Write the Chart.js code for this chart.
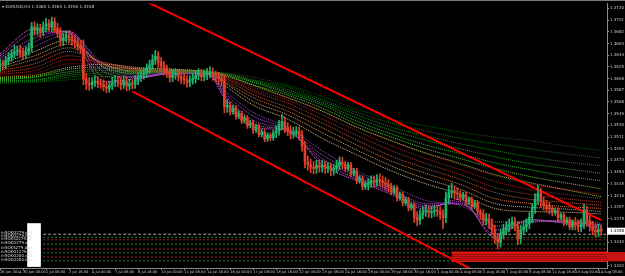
<!DOCTYPE html>
<html><head><meta charset="utf-8">
<script src="https://cdn.jsdelivr.net/npm/chart.js@4"></script>
<style>html,body{margin:0;padding:0;background:#000;overflow:hidden}canvas{display:block}</style>
</head><body>
<canvas id="c" width="625" height="276"></canvas>
<script>
const symbolTitle = "EURUSD,H4";
const ohlcTitle = ["1.3360", "1.3365", "1.3356", "1.3358"];
const timeLabels = ["26 Jun 2014","30 Jun 00:00","1 Jul 08:00","2 Jul 16:00","4 Jul 00:00","7 Jul 08:00","8 Jul 16:00","10 Jul 00:00","11 Jul 08:00","14 Jul 16:00","16 Jul 00:00","17 Jul 08:00","18 Jul 16:00","22 Jul 00:00","23 Jul 08:00","24 Jul 16:00","28 Jul 00:00","29 Jul 08:00","30 Jul 16:00","1 Aug 00:00","4 Aug 08:00","5 Aug 16:00","7 Aug 00:00","8 Aug 08:00","11 Aug 16:00","13 Aug 00:00","14 Aug 08:00"];
const labelBars = [0,8,16,24,32,40,48,56,64,72,80,88,96,104,112,120,128,136,144,152,160,168,176,184,192,200,208];
const yTicks = [1.3720,1.3701,1.3682,1.3663,1.3644,1.3625,1.3606,1.3587,1.3568,1.3549,1.3530,1.3511,1.3492,1.3473,1.3454,1.3435,1.3416,1.3397,1.3378,1.3359,1.3340,1.3321,1.3302];

const opens = [
1.3626,1.3630,1.3628,1.3635,1.3640,1.3646,1.3650,1.3652,
1.3648,1.3645,1.3650,1.3656,1.3690,1.3684,1.3688,1.3682,
1.3690,1.3695,1.3690,1.3698,1.3688,1.3680,1.3668,1.3672,
1.3676,1.3672,1.3668,1.3664,1.3660,1.3655,1.3605,1.3598,
1.3596,1.3600,1.3602,1.3598,1.3597,1.3593,1.3590,1.3595,
1.3600,1.3603,1.3600,1.3596,1.3602,1.3594,1.3598,1.3597,
1.3603,1.3608,1.3612,1.3615,1.3622,1.3628,1.3636,1.3642,
1.3632,1.3626,1.3620,1.3616,1.3608,1.3612,1.3614,1.3609,
1.3606,1.3604,1.3600,1.3604,1.3606,1.3611,1.3614,1.3609,
1.3612,1.3614,1.3616,1.3611,1.3609,1.3606,1.3602,1.3560,
1.3562,1.3552,1.3558,1.3545,1.3549,1.3538,1.3542,1.3530,
1.3534,1.3522,1.3528,1.3515,1.3519,1.3508,1.3514,1.3510,
1.3518,1.3521,1.3530,1.3536,1.3526,1.3521,1.3516,1.3519,
1.3520,1.3514,1.3496,1.3470,1.3466,1.3462,1.3460,1.3465,
1.3462,1.3465,1.3460,1.3462,1.3457,1.3460,1.3465,1.3470,
1.3467,1.3460,1.3466,1.3452,1.3456,1.3440,1.3444,1.3430,
1.3435,1.3436,1.3440,1.3438,1.3442,1.3440,1.3437,1.3434,
1.3430,1.3422,1.3428,1.3412,1.3418,1.3404,1.3409,1.3396,
1.3400,1.3380,1.3376,1.3385,1.3390,1.3392,1.3388,1.3390,
1.3392,1.3390,1.3385,1.3380,1.3412,1.3420,1.3424,1.3420,
1.3418,1.3412,1.3417,1.3405,1.3410,1.3398,1.3404,1.3390,
1.3385,1.3376,1.3378,1.3370,1.3360,1.3346,1.3340,1.3354,
1.3360,1.3365,1.3370,1.3372,1.3367,1.3346,1.3360,1.3365,
1.3370,1.3380,1.3395,1.3410,1.3420,1.3405,1.3400,1.3397,
1.3394,1.3388,1.3392,1.3380,1.3384,1.3372,1.3377,1.3365,
1.3372,1.3368,1.3365,1.3370,1.3390,1.3375,1.3366,1.3360,
1.3357,1.3361];
const highs = [
1.3638,1.3636,1.3642,1.3648,1.3653,1.3660,1.3659,1.3660,
1.3655,1.3658,1.3664,1.3697,1.3698,1.3695,1.3694,1.3698,
1.3704,1.3702,1.3706,1.3705,1.3696,1.3689,1.3680,1.3684,
1.3684,1.3680,1.3675,1.3671,1.3668,1.3669,1.3614,1.3607,
1.3607,1.3610,1.3609,1.3605,1.3604,1.3601,1.3602,1.3608,
1.3611,1.3610,1.3607,1.3610,1.3609,1.3605,1.3605,1.3611,
1.3615,1.3620,1.3623,1.3630,1.3636,1.3645,1.3652,1.3650,
1.3640,1.3634,1.3628,1.3623,1.3620,1.3622,1.3621,1.3616,
1.3614,1.3611,1.3611,1.3614,1.3619,1.3622,1.3621,1.3620,
1.3622,1.3625,1.3623,1.3618,1.3616,1.3614,1.3612,1.3572,
1.3568,1.3563,1.3562,1.3554,1.3553,1.3546,1.3546,1.3538,
1.3538,1.3532,1.3532,1.3523,1.3523,1.3518,1.3518,1.3522,
1.3529,1.3538,1.3548,1.3544,1.3534,1.3529,1.3527,1.3528,
1.3528,1.3522,1.3504,1.3480,1.3475,1.3471,1.3473,1.3473,
1.3473,1.3472,1.3470,1.3469,1.3467,1.3473,1.3479,1.3478,
1.3472,1.3470,1.3470,1.3460,1.3460,1.3448,1.3448,1.3439,
1.3444,1.3448,1.3448,1.3450,1.3451,1.3448,1.3445,1.3442,
1.3436,1.3432,1.3432,1.3422,1.3422,1.3413,1.3413,1.3404,
1.3404,1.3390,1.3393,1.3398,1.3401,1.3400,1.3398,1.3400,
1.3400,1.3398,1.3393,1.3422,1.3432,1.3436,1.3432,1.3428,
1.3424,1.3421,1.3421,1.3414,1.3414,1.3408,1.3408,1.3394,
1.3393,1.3387,1.3386,1.3378,1.3368,1.3354,1.3362,1.3369,
1.3373,1.3378,1.3381,1.3380,1.3374,1.3368,1.3373,1.3378,
1.3388,1.3403,1.3419,1.3432,1.3428,1.3413,1.3408,1.3405,
1.3399,1.3396,1.3396,1.3388,1.3388,1.3381,1.3381,1.3376,
1.3380,1.3376,1.3378,1.3402,1.3399,1.3383,1.3374,1.3368,
1.3369,1.3368];
const lows = [
1.3617,1.3620,1.3622,1.3628,1.3634,1.3640,1.3643,1.3641,
1.3637,1.3639,1.3644,1.3650,1.3676,1.3677,1.3673,1.3676,
1.3682,1.3683,1.3682,1.3681,1.3673,1.3659,1.3660,1.3665,
1.3664,1.3660,1.3656,1.3652,1.3647,1.3596,1.3588,1.3587,
1.3589,1.3593,1.3591,1.3590,1.3586,1.3583,1.3584,1.3588,
1.3593,1.3593,1.3588,1.3590,1.3586,1.3587,1.3589,1.3590,
1.3596,1.3601,1.3605,1.3608,1.3615,1.3621,1.3629,1.3624,
1.3618,1.3612,1.3608,1.3600,1.3601,1.3605,1.3602,1.3598,
1.3597,1.3592,1.3593,1.3597,1.3599,1.3604,1.3602,1.3602,
1.3604,1.3607,1.3603,1.3601,1.3598,1.3594,1.3550,1.3551,
1.3547,1.3548,1.3540,1.3541,1.3533,1.3534,1.3525,1.3526,
1.3517,1.3518,1.3511,1.3511,1.3503,1.3504,1.3505,1.3506,
1.3510,1.3514,1.3523,1.3518,1.3513,1.3508,1.3509,1.3512,
1.3506,1.3488,1.3461,1.3457,1.3453,1.3451,1.3452,1.3454,
1.3454,1.3452,1.3453,1.3448,1.3449,1.3453,1.3458,1.3459,
1.3455,1.3456,1.3447,1.3448,1.3435,1.3436,1.3425,1.3426,
1.3425,1.3429,1.3430,1.3431,1.3432,1.3429,1.3426,1.3422,
1.3417,1.3418,1.3407,1.3408,1.3399,1.3400,1.3391,1.3392,
1.3372,1.3367,1.3369,1.3378,1.3382,1.3380,1.3380,1.3382,
1.3382,1.3377,1.3362,1.3372,1.3404,1.3412,1.3411,1.3409,
1.3407,1.3408,1.3400,1.3401,1.3393,1.3394,1.3385,1.3377,
1.3368,1.3368,1.3362,1.3352,1.3338,1.3329,1.3332,1.3346,
1.3352,1.3357,1.3362,1.3359,1.3336,1.3338,1.3352,1.3357,
1.3362,1.3372,1.3387,1.3402,1.3397,1.3392,1.3389,1.3386,
1.3383,1.3384,1.3375,1.3376,1.3367,1.3368,1.3360,1.3360,
1.3360,1.3357,1.3357,1.3362,1.3367,1.3358,1.3352,1.3349,
1.3349,1.3351];
const closes = [
1.3630,1.3628,1.3635,1.3640,1.3646,1.3650,1.3652,1.3648,
1.3645,1.3650,1.3656,1.3690,1.3684,1.3688,1.3682,1.3690,
1.3695,1.3690,1.3698,1.3688,1.3680,1.3668,1.3672,1.3676,
1.3672,1.3668,1.3664,1.3660,1.3655,1.3605,1.3598,1.3596,
1.3600,1.3602,1.3598,1.3597,1.3593,1.3590,1.3595,1.3600,
1.3603,1.3600,1.3596,1.3602,1.3594,1.3598,1.3597,1.3603,
1.3608,1.3612,1.3615,1.3622,1.3628,1.3636,1.3642,1.3632,
1.3626,1.3620,1.3616,1.3608,1.3612,1.3614,1.3609,1.3606,
1.3604,1.3600,1.3604,1.3606,1.3611,1.3614,1.3609,1.3612,
1.3614,1.3616,1.3611,1.3609,1.3606,1.3602,1.3560,1.3562,
1.3552,1.3558,1.3545,1.3549,1.3538,1.3542,1.3530,1.3534,
1.3522,1.3528,1.3515,1.3519,1.3508,1.3514,1.3510,1.3518,
1.3521,1.3530,1.3536,1.3526,1.3521,1.3516,1.3519,1.3520,
1.3514,1.3496,1.3470,1.3466,1.3462,1.3460,1.3465,1.3462,
1.3465,1.3460,1.3462,1.3457,1.3460,1.3465,1.3470,1.3467,
1.3460,1.3466,1.3452,1.3456,1.3440,1.3444,1.3430,1.3435,
1.3436,1.3440,1.3438,1.3442,1.3440,1.3437,1.3434,1.3430,
1.3422,1.3428,1.3412,1.3418,1.3404,1.3409,1.3396,1.3400,
1.3380,1.3376,1.3385,1.3390,1.3392,1.3388,1.3390,1.3392,
1.3390,1.3385,1.3380,1.3412,1.3420,1.3424,1.3420,1.3418,
1.3412,1.3417,1.3405,1.3410,1.3398,1.3404,1.3390,1.3385,
1.3376,1.3378,1.3370,1.3360,1.3346,1.3340,1.3354,1.3360,
1.3365,1.3370,1.3372,1.3367,1.3346,1.3360,1.3365,1.3370,
1.3380,1.3395,1.3410,1.3420,1.3405,1.3400,1.3397,1.3394,
1.3388,1.3392,1.3380,1.3384,1.3372,1.3377,1.3365,1.3372,
1.3368,1.3365,1.3370,1.3390,1.3375,1.3366,1.3360,1.3357,
1.3361,1.3358];

// moving-average ribbon, read at these bars
const maBars = [0,12,24,36,48,60,72,80,88,100,112,124,136,148,160,172,184,196,209];
const fast1 = [1.3646,1.3687,1.3680,1.3601,1.3606,1.3614,1.3613,1.3558,1.3527,1.3521,1.3466,1.3440,1.3418,1.3394,1.3410,1.3348,1.3377,1.3371,1.3363];
const fast2 = [1.3643,1.3680,1.3682,1.3609,1.3608,1.3614,1.3614,1.3564,1.3532,1.3521,1.3471,1.3443,1.3421,1.3397,1.3406,1.3353,1.3376,1.3373,1.3366];
const fast3 = [1.3640,1.3672,1.3683,1.3617,1.3608,1.3616,1.3614,1.3569,1.3538,1.3522,1.3476,1.3447,1.3424,1.3400,1.3403,1.3360,1.3374,1.3373,1.3368];
const fast4 = [1.3637,1.3666,1.3682,1.3624,1.3609,1.3616,1.3614,1.3574,1.3545,1.3524,1.3482,1.3452,1.3427,1.3403,1.3402,1.3366,1.3373,1.3374,1.3369];
const fast5 = [1.3633,1.3658,1.3678,1.3630,1.3611,1.3616,1.3614,1.3579,1.3551,1.3527,1.3489,1.3456,1.3432,1.3408,1.3400,1.3373,1.3373,1.3376,1.3371];
const mid1 = [1.3629,1.3650,1.3669,1.3625,1.3614,1.3617,1.3616,1.3588,1.3563,1.3540,1.3509,1.3482,1.3456,1.3435,1.3418,1.3395,1.3390,1.3389,1.3386];
const mid2 = [1.3625,1.3643,1.3662,1.3629,1.3616,1.3617,1.3616,1.3593,1.3569,1.3547,1.3518,1.3490,1.3464,1.3443,1.3426,1.3403,1.3397,1.3394,1.3390];
const mid3 = [1.3622,1.3637,1.3656,1.3630,1.3617,1.3617,1.3616,1.3596,1.3575,1.3553,1.3526,1.3498,1.3472,1.3452,1.3434,1.3411,1.3403,1.3398,1.3395];
const mid4 = [1.3619,1.3630,1.3650,1.3632,1.3619,1.3617,1.3617,1.3600,1.3580,1.3559,1.3534,1.3506,1.3480,1.3460,1.3442,1.3421,1.3410,1.3405,1.3400];
const mid5 = [1.3616,1.3624,1.3643,1.3632,1.3621,1.3619,1.3617,1.3603,1.3585,1.3566,1.3540,1.3514,1.3489,1.3468,1.3450,1.3429,1.3418,1.3411,1.3405];
const mid6 = [1.3613,1.3619,1.3637,1.3632,1.3622,1.3619,1.3617,1.3604,1.3588,1.3571,1.3547,1.3521,1.3497,1.3476,1.3458,1.3439,1.3426,1.3418,1.3411];
const mid7 = [1.3609,1.3614,1.3630,1.3630,1.3622,1.3619,1.3617,1.3606,1.3592,1.3575,1.3553,1.3527,1.3505,1.3484,1.3466,1.3448,1.3435,1.3426,1.3418];
const slow1 = [1.3608,1.3611,1.3624,1.3629,1.3624,1.3621,1.3617,1.3608,1.3595,1.3575,1.3553,1.3527,1.3505,1.3485,1.3468,1.3450,1.3437,1.3426,1.3414];
const slow2 = [1.3606,1.3609,1.3621,1.3625,1.3622,1.3621,1.3617,1.3609,1.3596,1.3579,1.3558,1.3532,1.3511,1.3492,1.3476,1.3460,1.3447,1.3437,1.3427];
const slow3 = [1.3604,1.3608,1.3617,1.3622,1.3621,1.3619,1.3617,1.3611,1.3600,1.3582,1.3563,1.3537,1.3516,1.3498,1.3484,1.3469,1.3458,1.3448,1.3440];
const slow4 = [1.3603,1.3604,1.3614,1.3619,1.3619,1.3619,1.3617,1.3611,1.3601,1.3585,1.3566,1.3542,1.3522,1.3506,1.3492,1.3479,1.3468,1.3460,1.3452];
const slow5 = [1.3601,1.3603,1.3611,1.3616,1.3617,1.3617,1.3617,1.3613,1.3603,1.3588,1.3569,1.3547,1.3527,1.3513,1.3500,1.3489,1.3479,1.3471,1.3464];
const slow6 = [1.3600,1.3601,1.3608,1.3613,1.3616,1.3617,1.3616,1.3613,1.3604,1.3592,1.3572,1.3551,1.3534,1.3521,1.3509,1.3500,1.3492,1.3484,1.3477];
const slow7 = [1.3598,1.3600,1.3604,1.3609,1.3614,1.3616,1.3616,1.3614,1.3608,1.3595,1.3577,1.3556,1.3540,1.3529,1.3519,1.3511,1.3505,1.3497,1.3489];

// trend channel (bar index, price)
const channelUpperBars = [50, 209];
const channelUpperPrices = [1.3733, 1.3376];
const channelLowerBars = [46, 166];
const channelLowerPrices = [1.3585, 1.3291];

// horizontal order lines
const hLineNames = ["m5OKG279.sell","m5OKG279.buy","m5OKS2279.tp","m5OKG279.sl","m5OKS279.buy","m5OKG1279.tp","m5OKG280.sell","m5OKG280.buy"];
const hLinePrices = [1.3353,1.3348,1.3344,1.3337,1.3329,1.3323,1.3316,1.3310];
const hLineColors = ["#9aaa9a","#1e8a1e","#b02020","#1e8a1e","#b02020","#1e8a1e","#b02020","#1e8a1e"];
const hLineStartBar = 15;
const zoneTop = 1.3324, zoneBottom = 1.3309, zoneStartBar = 157;
const noteBox = {fromBar: 9.45, toBar: 14.2, top: 1.3371, bottom: 1.3300};

const BULL = "#1fb46e", BEAR = "#e0402a";
const idx = closes.map((_, i) => i);
const candleColors = idx.map(i => closes[i] >= opens[i] ? BULL : BEAR);
const lastBar = 211;

function lineSet(bars, vals, color, width, order, dash) {
  return {type: 'line', data: bars.map((b, j) => ({x: b, y: vals[j]})), borderColor: color,
    borderWidth: width, pointRadius: 0, fill: false, order: order, borderDash: dash || [],
    cubicInterpolationMode: 'monotone'};
}
const maDefs = [
  [slow7, "#0b5e0b"], [slow6, "#127812"], [slow5, "#1a901a"], [slow4, "#22a822"], [slow3, "#36c036"], [slow2, "#6ccc3a"], [slow1, "#a0d040"],
  [mid7, "#8b1a1a"], [mid6, "#a42626"], [mid5, "#bb3a2c"], [mid4, "#cf5a36"], [mid3, "#e07b3c"], [mid2, "#e0a070"], [mid1, "#d8c090"],
  [fast5, "#9a4ec8"], [fast4, "#b050d8"], [fast3, "#cc55e0"], [fast2, "#e05ae8"], [fast1, "#ff66ff"]
];
const datasets = [];
maDefs.forEach(([v, c]) => datasets.push(lineSet(maBars, v, c, 1, 8, [1, 1])));
datasets.push(lineSet(channelUpperBars, channelUpperPrices, "#ff0000", 2, 3));
datasets.push(lineSet(channelLowerBars, channelLowerPrices, "#ff0000", 2, 3));
hLinePrices.forEach((p, k) => datasets.push(lineSet([hLineStartBar, lastBar], [p, p], hLineColors[k], 1, 9, k === 0 ? [3, 2] : [2, 2])));
datasets.push({type: 'line', data: [{x: zoneStartBar, y: zoneTop}, {x: lastBar, y: zoneTop}], borderColor: "#ff2020", borderWidth: 1, pointRadius: 0, fill: false, order: 7});
datasets.push({type: 'line', data: [{x: zoneStartBar, y: zoneBottom}, {x: lastBar, y: zoneBottom}], borderColor: "#ff2020", borderWidth: 1, pointRadius: 0, fill: '-1', backgroundColor: "#c81414", order: 7});
datasets.push({type: 'bar', data: idx.map(i => ({x: i, y: [lows[i], highs[i]]})), backgroundColor: candleColors, barThickness: 1, grouped: false, order: 2});
datasets.push({type: 'bar', data: idx.map(i => ({x: i, y: [opens[i], closes[i]]})), backgroundColor: candleColors, barThickness: 2, minBarLength: 1, grouped: false, order: 1});

const overlay = {
  id: 'overlay',
  beforeDraw(chart) {
    const c = chart.ctx;
    c.save(); c.fillStyle = '#000'; c.fillRect(0, 0, chart.width, chart.height);
    c.fillStyle = '#7a7a7a'; c.fillRect(0, 0, chart.width, 1); c.restore();
  },
  afterDatasetsDraw(chart) {
    const c = chart.ctx, x = chart.scales.x, y = chart.scales.y, a = chart.chartArea;
    c.save();
    // hatch texture on the zone
    const zt = y.getPixelForValue(zoneTop), zb = y.getPixelForValue(zoneBottom);
    const zx = x.getPixelForValue(zoneStartBar);
    c.fillStyle = 'rgba(90,0,0,0.55)';
    for (let yy = Math.ceil(zt) + 1; yy < zb; yy += 2) c.fillRect(zx, yy, a.right - zx, 0.6);
    // note box
    c.fillStyle = '#ffffff';
    const bx0 = x.getPixelForValue(noteBox.fromBar), bx1 = x.getPixelForValue(noteBox.toBar);
    const by0 = y.getPixelForValue(noteBox.top), by1 = y.getPixelForValue(noteBox.bottom);
    c.fillRect(bx0, by0, bx1 - bx0, by1 - by0);
    // line descriptions
    c.font = '4px "DejaVu Sans"'; c.fillStyle = '#d8d8d8'; c.textBaseline = 'bottom'; c.textAlign = 'left';
    hLinePrices.forEach((p, k) => c.fillText(hLineNames[k], 1, y.getPixelForValue(p) + 1));
    // title
    c.font = '4.2px "DejaVu Sans"'; c.fillStyle = '#d0d0d0'; c.textBaseline = 'middle';
    c.fillText('\u25BE ' + symbolTitle + ' ' + ohlcTitle.join(' '), 2, a.top + 4);
    // zone label in price axis
    c.fillStyle = '#c81414'; c.fillRect(a.right, zt, chart.width - a.right, zb - zt);
    // current price box
    const last = closes[closes.length - 1];
    const py = y.getPixelForValue(last);
    c.fillStyle = '#ffffff'; c.fillRect(a.right, py - 3.5, chart.width - a.right, 7);
    c.fillStyle = '#000'; c.font = '4px "DejaVu Sans"'; c.textBaseline = 'middle';
    c.fillText(last.toFixed(4), a.right + 3, py);
    c.restore();
  }
};

new Chart(document.getElementById('c'), {
  type: 'line',
  data: {datasets},
  options: {
    responsive: false, animation: false, events: [],
    layout: {padding: {top: 1, left: 0, right: 0, bottom: 0}},
    plugins: {legend: {display: false}, tooltip: {enabled: false}},
    scales: {
      x: {type: 'linear', min: 0, max: lastBar, offset: false,
        afterFit(s) { s.height = 8; },
        afterBuildTicks(s) { s.ticks = labelBars.map(v => ({value: v})); },
        grid: {display: true, drawOnChartArea: false, drawTicks: true, tickLength: 2, color: '#9a9a9a', offset: false},
        border: {display: true, color: '#8a8a8a'},
        ticks: {autoSkip: false, maxRotation: 0, align: 'start', padding: 0, color: '#c8c8c8',
          font: {size: 3.6, family: 'DejaVu Sans'},
          callback(v) { const k = labelBars.indexOf(v); return k >= 0 ? timeLabels[k] : ''; }}
      },
      y: {position: 'right', min: 1.32982, max: 1.37281,
        afterFit(s) { s.width = 18; },
        afterBuildTicks(s) { s.ticks = yTicks.map(v => ({value: v})); },
        grid: {display: true, drawOnChartArea: false, drawTicks: true, tickLength: 2, color: '#9a9a9a'},
        border: {display: true, color: '#8a8a8a'},
        ticks: {autoSkip: false, padding: 1, color: '#c8c8c8', font: {size: 4, family: 'DejaVu Sans'},
          callback(v) { return Number(v).toFixed(4); }}
      }
    }
  },
  plugins: [overlay]
});
</script>
</body></html>
